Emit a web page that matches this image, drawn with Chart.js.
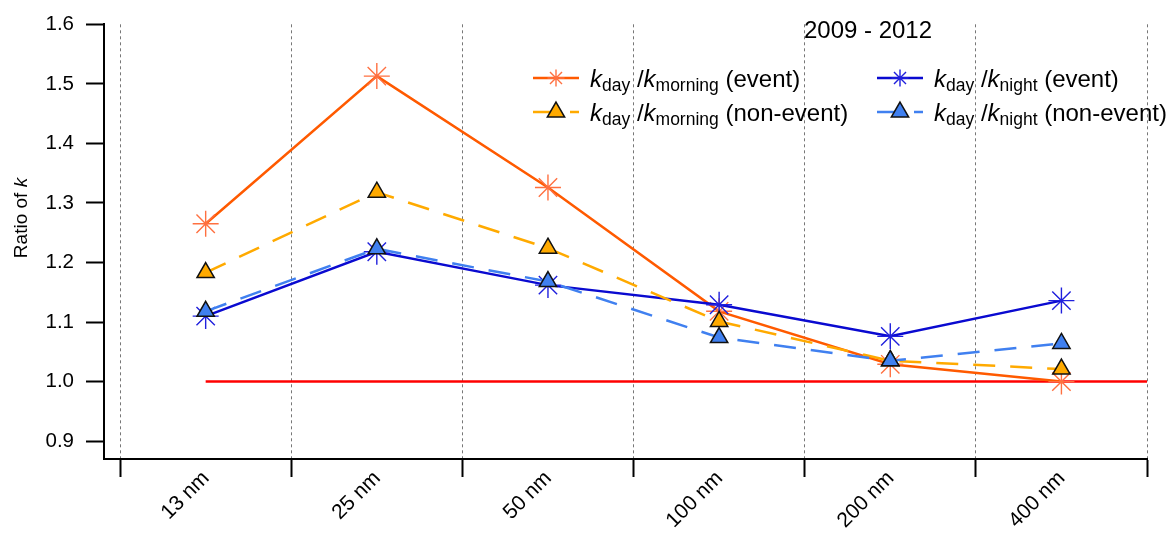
<!DOCTYPE html>
<html>
<head>
<meta charset="utf-8">
<script src="https://cdn.jsdelivr.net/npm/chart.js@4/dist/chart.umd.min.js"></script>
<style>
  html, body { margin: 0; padding: 0; background: #ffffff; }
  #wrap { width: 1175px; height: 533px; }
</style>
</head>
<body>
<div id="wrap"><canvas id="c" width="1175" height="533"></canvas></div>
<script>
// Particle size classes
const categories = ['13 nm', '25 nm', '50 nm', '100 nm', '200 nm', '400 nm'];

// Ratios of k, 2009 - 2012
const dayMorningEvent    = [1.265, 1.513, 1.326, 1.118, 1.029, 1.000];
const dayMorningNonEvent = [1.183, 1.318, 1.224, 1.101, 1.035, 1.021];
const dayNightEvent      = [1.110, 1.218, 1.162, 1.129, 1.076, 1.136];
const dayNightNonEvent   = [1.118, 1.223, 1.168, 1.074, 1.035, 1.064];

// Reference level and axis ticks
const referenceLevel = 1.0;
const yTickValues = [0.9, 1.0, 1.1, 1.2, 1.3, 1.4, 1.5, 1.6];
const periodLabel = '2009 - 2012';

const FONT = "'Liberation Sans', Arial, Helvetica, sans-serif";
const X_MIN = -0.594, X_MAX = categories.length - 0.5;
const Y_MIN = 0.87, Y_MAX = 1.6;

const toPoints = arr => arr.map((v, i) => ({ x: i, y: v }));

const C_ORANGE_LINE = '#ff5a00';
const C_ORANGE_STAR = '#ff7040';
const C_AMBER = '#ffaa00';
const C_NAVY = '#0a0ad0';
const C_NAVY_STAR = '#2020dd';
const C_ROYAL = '#4080f0';

const DASH = [22, 15];

const series = [
  { key: 'me', data: dayMorningEvent, line: C_ORANGE_LINE, markerStroke: C_ORANGE_STAR, fill: C_ORANGE_STAR,
    style: 'star', radius: 13, dash: [], order: 4, sub: 'morning', tag: '(event)' },
  { key: 'mn', data: dayMorningNonEvent, line: C_AMBER, markerStroke: '#111111', fill: C_AMBER,
    style: 'triangle', radius: 10, dash: DASH, order: 2, sub: 'morning', tag: '(non-event)' },
  { key: 'ne', data: dayNightEvent, line: C_NAVY, markerStroke: C_NAVY_STAR, fill: C_NAVY_STAR,
    style: 'star', radius: 13, dash: [], order: 3, sub: 'night', tag: '(event)' },
  { key: 'nn', data: dayNightNonEvent, line: C_ROYAL, markerStroke: '#111111', fill: C_ROYAL,
    style: 'triangle', radius: 10, dash: DASH, order: 1, sub: 'night', tag: '(non-event)' }
];

const datasets = series.map(s => ({
  label: s.key,
  data: toPoints(s.data),
  borderColor: s.line,
  borderWidth: 2.5,
  borderDash: s.dash,
  pointStyle: s.style,
  pointRadius: s.radius,
  pointBackgroundColor: s.fill,
  pointBorderColor: s.markerStroke,
  pointBorderWidth: s.style === 'star' ? 1.4 : 1.5,
  tension: 0,
  fill: false,
  order: s.order
}));

datasets.push({
  label: 'ref',
  data: [{ x: 0, y: referenceLevel }, { x: X_MAX, y: referenceLevel }],
  borderColor: '#ff0000',
  borderWidth: 2.5,
  pointRadius: 0,
  fill: false,
  order: 10
});

function drawRich(ctx, x, y, parts) {
  let cx = x;
  parts.forEach(p => {
    ctx.font = (p.italic ? 'italic ' : '') + p.size + 'px ' + FONT;
    ctx.fillText(p.t, cx, y + (p.dy || 0));
    cx += ctx.measureText(p.t).width + (p.gap || 0);
  });
  return cx;
}

const annotations = {
  id: 'annotations',
  afterDraw(chart) {
    const ctx = chart.ctx;
    ctx.save();
    ctx.fillStyle = '#000000';
    ctx.textBaseline = 'alphabetic';

    // period title
    ctx.font = '24px ' + FONT;
    ctx.textAlign = 'center';
    ctx.fillText(periodLabel, 868, 38);

    // y axis title
    ctx.save();
    ctx.translate(27, 218);
    ctx.rotate(-Math.PI / 2);
    ctx.textAlign = 'left';
    ctx.font = '19px ' + FONT;
    const w1 = ctx.measureText('Ratio of ').width;
    ctx.font = 'italic 19px ' + FONT;
    const w2 = ctx.measureText('k').width;
    const sx = -(w1 + w2) / 2;
    ctx.font = '19px ' + FONT;
    ctx.fillText('Ratio of ', sx, 0);
    ctx.font = 'italic 19px ' + FONT;
    ctx.fillText('k', sx + w1, 0);
    ctx.restore();

    // legend
    ctx.textAlign = 'left';
    const cols = [533, 877];
    const rows = [78, 112];
    const layout = [
      { s: series[0], col: 0, row: 0 },
      { s: series[1], col: 0, row: 1 },
      { s: series[2], col: 1, row: 0 },
      { s: series[3], col: 1, row: 1 }
    ];
    layout.forEach(({ s, col, row }) => {
      const x0 = cols[col], y0 = rows[row];
      ctx.save();
      ctx.strokeStyle = s.line;
      ctx.lineWidth = 2.5;
      ctx.setLineDash(s.dash);
      ctx.beginPath();
      ctx.moveTo(x0, y0);
      ctx.lineTo(x0 + 46, y0);
      ctx.stroke();
      ctx.restore();
      ctx.save();
      ctx.fillStyle = s.fill;
      ctx.strokeStyle = s.markerStroke;
      ctx.lineWidth = s.style === 'star' ? 1.4 : 1.5;
      Chart.helpers.drawPoint(ctx, {
        pointStyle: s.style,
        radius: s.style === 'star' ? 8.5 : 10,
        rotation: 0,
        borderWidth: ctx.lineWidth
      }, x0 + 23, y0);
      ctx.restore();
      ctx.fillStyle = '#000000';
      drawRich(ctx, x0 + 57, y0 + 9, [
        { t: 'k', italic: true, size: 24 },
        { t: 'day', size: 17.5, dy: 4 },
        { t: ' /', size: 24 },
        { t: 'k', italic: true, size: 24 },
        { t: s.sub, size: 17.5, dy: 4 },
        { t: ' ' + s.tag, size: 24 }
      ]);
    });
    ctx.restore();
  }
};

new Chart(document.getElementById('c'), {
  type: 'line',
  data: { datasets },
  plugins: [annotations],
  options: {
    responsive: false,
    animation: false,
    devicePixelRatio: 1,
    layout: { padding: { top: 20, right: 28, left: 0, bottom: 0 } },
    plugins: { legend: { display: false }, tooltip: { enabled: false }, title: { display: false } },
    elements: { line: { borderCapStyle: 'butt', borderJoinStyle: 'miter' } },
    scales: {
      x: {
        type: 'linear',
        position: 'bottom',
        min: X_MIN,
        max: X_MAX,
        afterBuildTicks: s => {
          s.ticks = categories.concat(['']).map((_, i) => ({ value: i - 0.5 }));
        },
        afterFit: s => { s.height = 74; },
        ticks: {
          autoSkip: false,
          minRotation: 45,
          maxRotation: 45,
          labelOffset: 86,
          padding: -11,
          color: '#000000',
          font: { family: FONT, size: 21 },
          callback: (v, i) => categories[i] || ''
        },
        grid: {
          display: true,
          drawOnChartArea: true,
          drawTicks: true,
          color: '#777777',
          lineWidth: 1,
          tickLength: 18,
          tickColor: '#000000',
          tickWidth: 2,
          tickBorderDash: []
        },
        border: { display: true, color: '#000000', width: 2, dash: [3, 3] }
      },
      y: {
        type: 'linear',
        min: Y_MIN,
        max: Y_MAX,
        afterBuildTicks: s => { s.ticks = yTickValues.map(v => ({ value: v })); },
        afterFit: s => { s.width = 104; },
        ticks: {
          padding: 12,
          color: '#000000',
          font: { family: FONT, size: 20.5 },
          callback: v => Number(v).toFixed(1)
        },
        grid: {
          drawOnChartArea: false,
          drawTicks: true,
          tickLength: 18,
          tickColor: '#000000',
          tickWidth: 2
        },
        border: { display: true, color: '#000000', width: 2 }
      }
    }
  }
});
</script>
</body>
</html>
